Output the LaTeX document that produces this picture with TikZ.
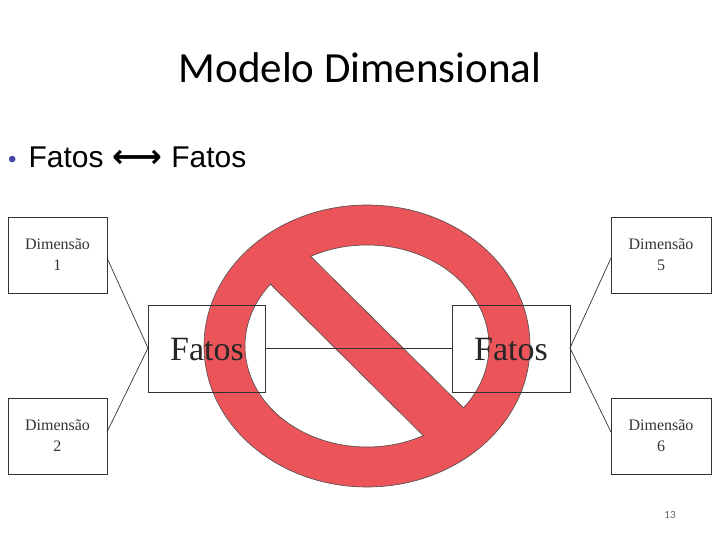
\documentclass[tikz,border=0pt]{standalone}
\usepackage{fontspec}
\usetikzlibrary{calc}
\setmainfont{Liberation Serif}
\newfontfamily\calib{Carlito}
\newfontfamily\arial{Liberation Sans}
\newfontfamily\dejavu{DejaVu Sans}
\definecolor{signred}{RGB}{235,85,90}
\begin{document}
\begin{tikzpicture}[x=1pt,y=-1pt,
  box/.style={draw=black!80,line width=0.7pt},
  dim/.style={font=\fontsize{16}{21}\selectfont,align=center,text=black!80},
  link/.style={draw=black!80,line width=0.7pt}]
\useasboundingbox (0,0) rectangle (720,540);
\node (title) at (360,68) {\calib\fontsize{43}{45}\selectfont Modelo Dimensional};
\node[anchor=west,inner sep=0pt] (bul) at (8,157) {\arial\fontsize{30}{30}\selectfont{\color[RGB]{70,70,170}\fontsize{24}{24}\selectfont\textbullet}\hspace{12pt}Fatos\hspace{9pt}{\dejavu\bfseries\fontsize{32}{30}\selectfont ←\hspace{-4pt}→}\hspace{9pt}Fatos};
% boxes
\draw[box] (8,217) rectangle (107,293) node[midway,dim] (d1) {Dimensão\\1};
\draw[box] (8,398) rectangle (107,474) node[midway,dim] (d2) {Dimensão\\2};
\draw[box] (611,217) rectangle (711,293) node[midway,dim] (d5) {Dimensão\\5};
\draw[box] (611,398) rectangle (711,474) node[midway,dim] (d6) {Dimensão\\6};
% red sign
\fill[fill=signred,even odd rule,draw=black!70,line width=0.6pt]
  (367,346) ellipse [x radius=163,y radius=141] (367,346) ellipse [x radius=122,y radius=101];
\begin{scope}
\clip (367,346) ellipse [x radius=123,y radius=102];
\draw[line width=48pt,signred] (250,230) -- (484,462);
\draw[black!70,line width=0.6pt] ($(250,230)+(17,-17)$) -- ($(484,462)+(17,-17)$);
\draw[black!70,line width=0.6pt] ($(250,230)+(-17,17)$) -- ($(484,462)+(-17,17)$);
\end{scope}
\draw[box] (148,305) rectangle (265,392);
\node[font=\fontsize{34}{34}\selectfont,text=black!85] (f1) at (207,350) {Fatos};
\draw[box] (452,305) rectangle (570,392);
\node[font=\fontsize{34}{34}\selectfont,text=black!85] (f2) at (511,350) {Fatos};
\coordinate (f1w) at (148,348);
\coordinate (f2e) at (570,348);
\coordinate (d1e) at (107,258);
\coordinate (d2e) at (107,432);
\coordinate (d5w) at (611,258);
\coordinate (d6w) at (611,432);
\draw[link] (d1e) -- (f1w) -- (d2e);
\draw[link] (d5w) -- (f2e) -- (d6w);
\draw[link] (265,348) -- (452,348);
\node[text=black!60,font=\calib\fontsize{11}{12}\selectfont] (pg) at (670,515) {13};
\end{tikzpicture}
\end{document}
